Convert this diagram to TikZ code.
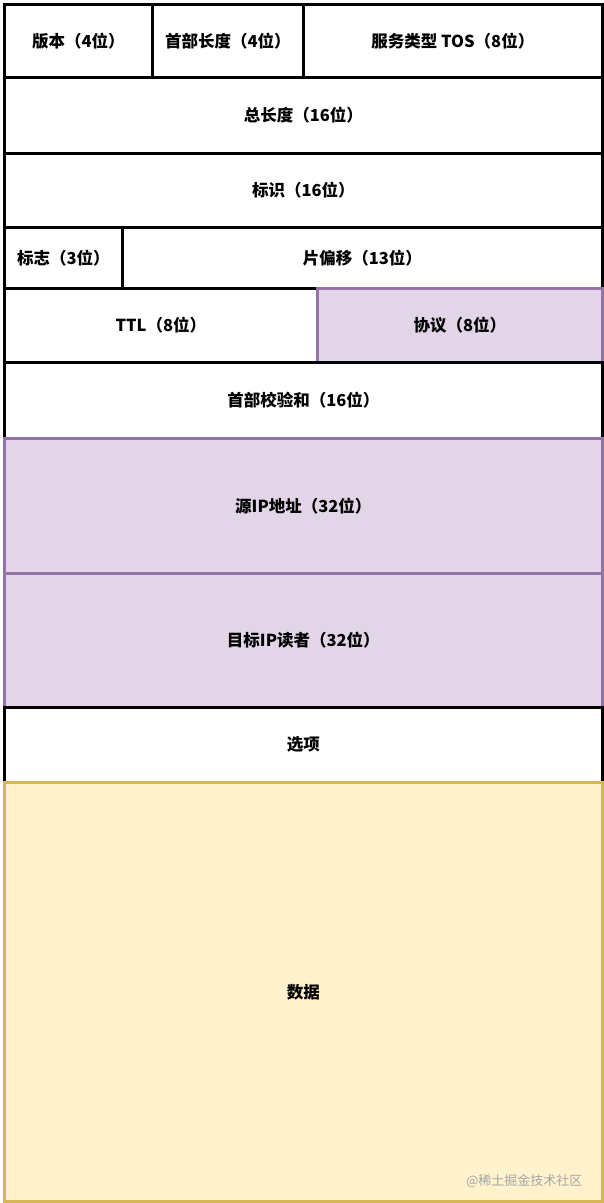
\documentclass[tikz,border=0pt]{standalone}
\usepackage{fontspec}
\setmainfont{Noto Sans CJK SC}
\usepackage{tikz}

\definecolor{purplefill}{HTML}{E1D5E7}
\definecolor{purpleline}{HTML}{9673A6}
\definecolor{yellowfill}{HTML}{FFF2CC}
\definecolor{yellowline}{HTML}{D6B656}

\tikzset{
	field/.style={draw=black, line width=2.7pt, fill=white, anchor=north west, inner sep=0pt,
		font=\fontsize{16.5}{19}\selectfont\bfseries},
	addr/.style={field, draw=purpleline, fill=purplefill},
	payload/.style={field, draw=yellowline, fill=yellowfill}
}

\begin{document}
\begin{tikzpicture}[x=1pt, y=-1pt]
			\useasboundingbox (0,0) rectangle (603,1203);
			% row 1
			\node[field, minimum width=148pt, minimum height=73pt] (ver) at (3,3) {版本（4位）};
			\node[field, minimum width=151pt, minimum height=73pt] (ihl) at (151,3) {首部长度（4位）};
			\node[field, minimum width=299pt, minimum height=73pt] (tos) at (302,3) {服务类型 TOS（8位）};
			% rows 2--3
			\node[field, minimum width=598pt, minimum height=76pt] (len) at (3,76) {总长度（16位）};
			\node[field, minimum width=598pt, minimum height=74pt] (id) at (3,152) {标识（16位）};
			% row 4
			\node[field, minimum width=118pt, minimum height=61pt] (flag) at (3,226) {标志（3位）};
			\node[field, minimum width=480pt, minimum height=61pt] (off) at (121,226) {片偏移（13位）};
			% row 5
			\node[field, minimum width=313pt, minimum height=74pt] (ttl) at (3,287) {TTL（8位）};
			\node[addr, minimum width=285pt, minimum height=74pt] (proto) at (316,287) {协议（8位）};
			\node[field, minimum width=598pt, minimum height=76pt] (sum) at (3,361) {首部校验和（16位）};
			% addresses
			\node[addr, minimum width=598pt, minimum height=135pt] (src) at (3,437) {源IP地址（32位）};
			\node[addr, minimum width=598pt, minimum height=134pt] (dst) at (3,572) {目标IP读者（32位）};
			\node[field, minimum width=598pt, minimum height=75pt] (opt) at (3,706) {选项};
			\node[payload, minimum width=598pt, minimum height=419pt] (data) at (3,781) {数据};
			\node[text=gray!70, font=\fontsize{13}{15}\selectfont, anchor=east] (mark) at (586,1181) {@稀土掘金技术社区};
		\end{tikzpicture}
\end{document}
